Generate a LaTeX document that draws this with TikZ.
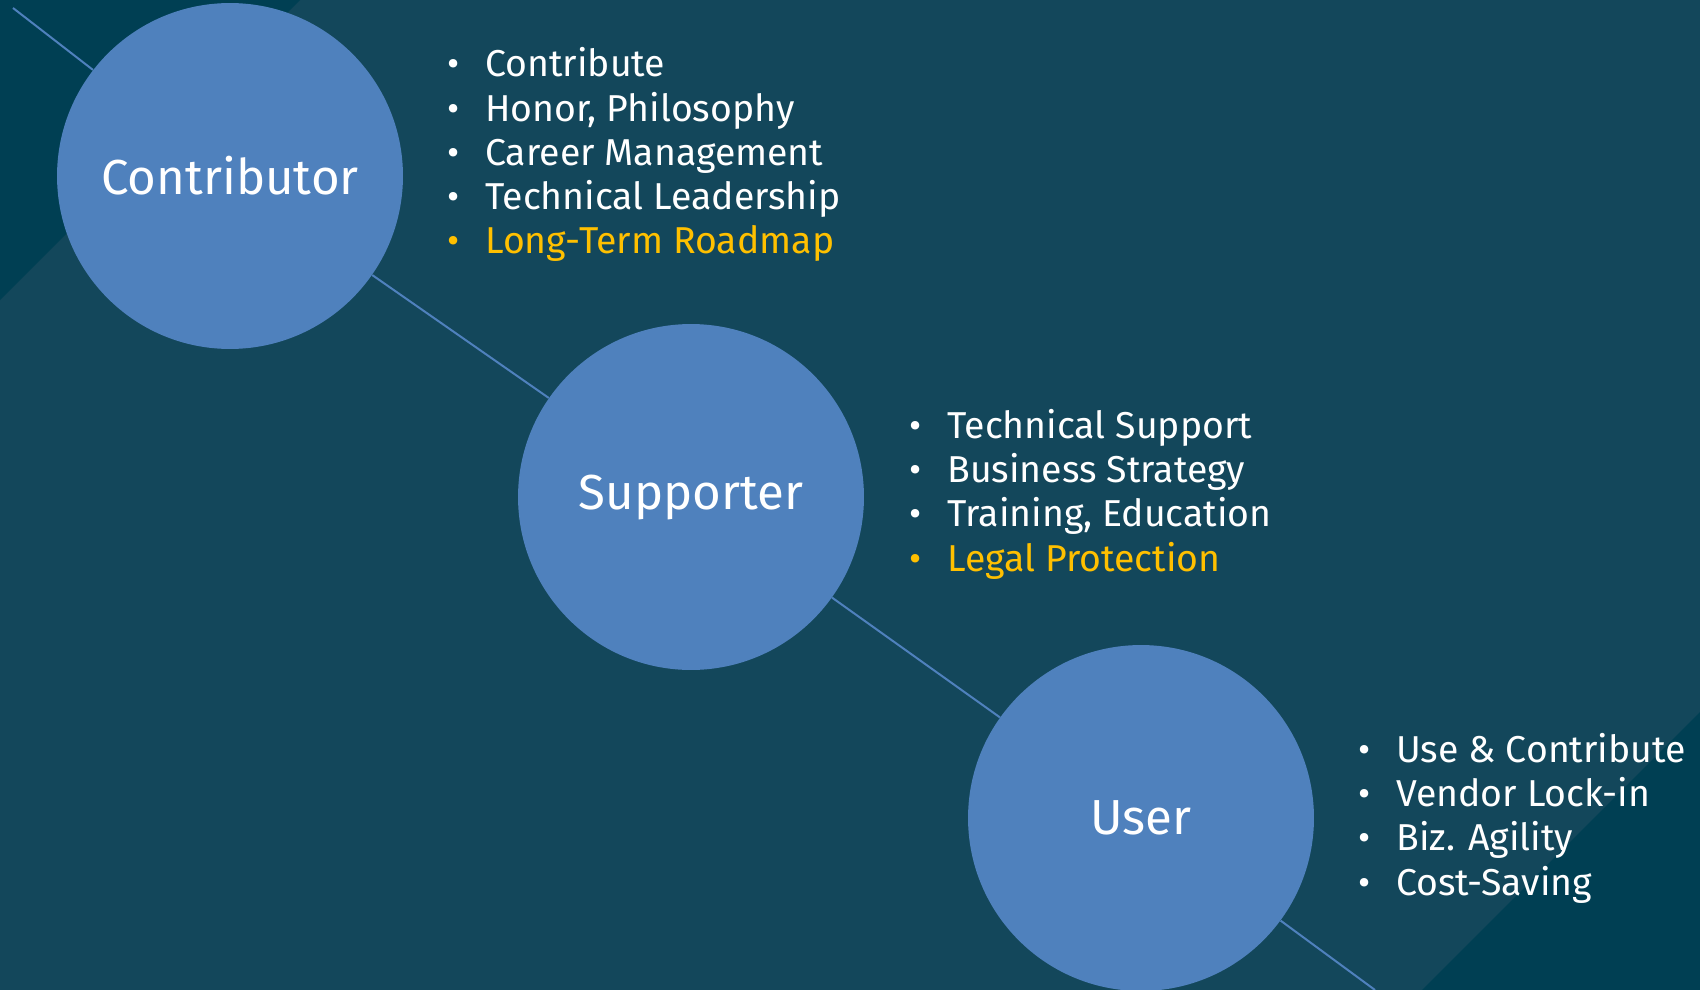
\documentclass[tikz,border=0pt]{standalone}
\usepackage{fontspec}
\setmainfont{Fira Sans}
\usetikzlibrary{positioning,backgrounds}
\definecolor{mybg}{RGB}{19,71,91}
\definecolor{mydark}{RGB}{0,63,83}
\definecolor{myblue}{RGB}{79,129,189}
\definecolor{myyellow}{RGB}{255,192,0}

\begin{document}
\begin{tikzpicture}[x=0.02cm,y=-0.02cm,
	rolenode/.style={circle,fill=myblue,minimum size=6.92cm,inner sep=0pt,text=white,font=\fontsize{28}{34}\selectfont},
	itemnode/.style={anchor=base west,inner sep=0pt,text=white,font=\fontsize{21.3}{25}\selectfont},
	hinode/.style={itemnode,text=myyellow},
	%every node/.style={draw}
	]
	
	% the background
	\begin{scope}[on background layer]
	\fill[mybg] (0,0) rectangle (1700,990);
	\fill[mydark] (0,0) -- (300,0) -- (0,300) -- cycle;
	\fill[mydark] (1700,990) -- (1700,712) -- (1422,990) -- cycle;
	\end{scope}
	\useasboundingbox (0,0) rectangle (1700,990);
	
	% the roles
	\node[rolenode] (contrib) at (230,176) {Contributor};
	\node[rolenode] (support) at (691,497) {Supporter};
	\node[rolenode] (user) at (1141,818) {User};
	
	% the ends of the line
	\coordinate (start) at (13,8);
	\coordinate (end) at (1375,990);
	
	% the contributor list
	\foreach \t [count=\i] in {Contribute,{Honor, Philosophy},Career Management,Technical Leadership}
	\node[itemnode] (c\i) at (447,{77+44*(\i-1)}) {\makebox[0.76cm][l]{\textbullet}\t};
	\node[hinode] (c5) at (447,253) {\makebox[0.76cm][l]{\textbullet}Long-Term Roadmap};
	
	% the supporter list
	\foreach \t [count=\i] in {Technical Support,Business Strategy,{Training, Education}}
	\node[itemnode] (s\i) at (909,{438.5+44.2*(\i-1)}) {\makebox[0.76cm][l]{\textbullet}\t};
	\node[hinode] (s4) at (909,571) {\makebox[0.76cm][l]{\textbullet}Legal Protection};
	
	% the user list
	\foreach \t [count=\i] in {Use \& Contribute,Vendor Lock-in,Biz. Agility,Cost-Saving}
	\node[itemnode] (u\i) at (1358,{762+44.4*(\i-1)}) {\makebox[0.76cm][l]{\textbullet}\t};
	
	% the line
	\begin{scope}[on background layer]
	\draw[myblue,line width=0.04cm] (start) -- (contrib) -- (support) -- (user) -- (end);
	\end{scope}
\end{tikzpicture}
\end{document}
